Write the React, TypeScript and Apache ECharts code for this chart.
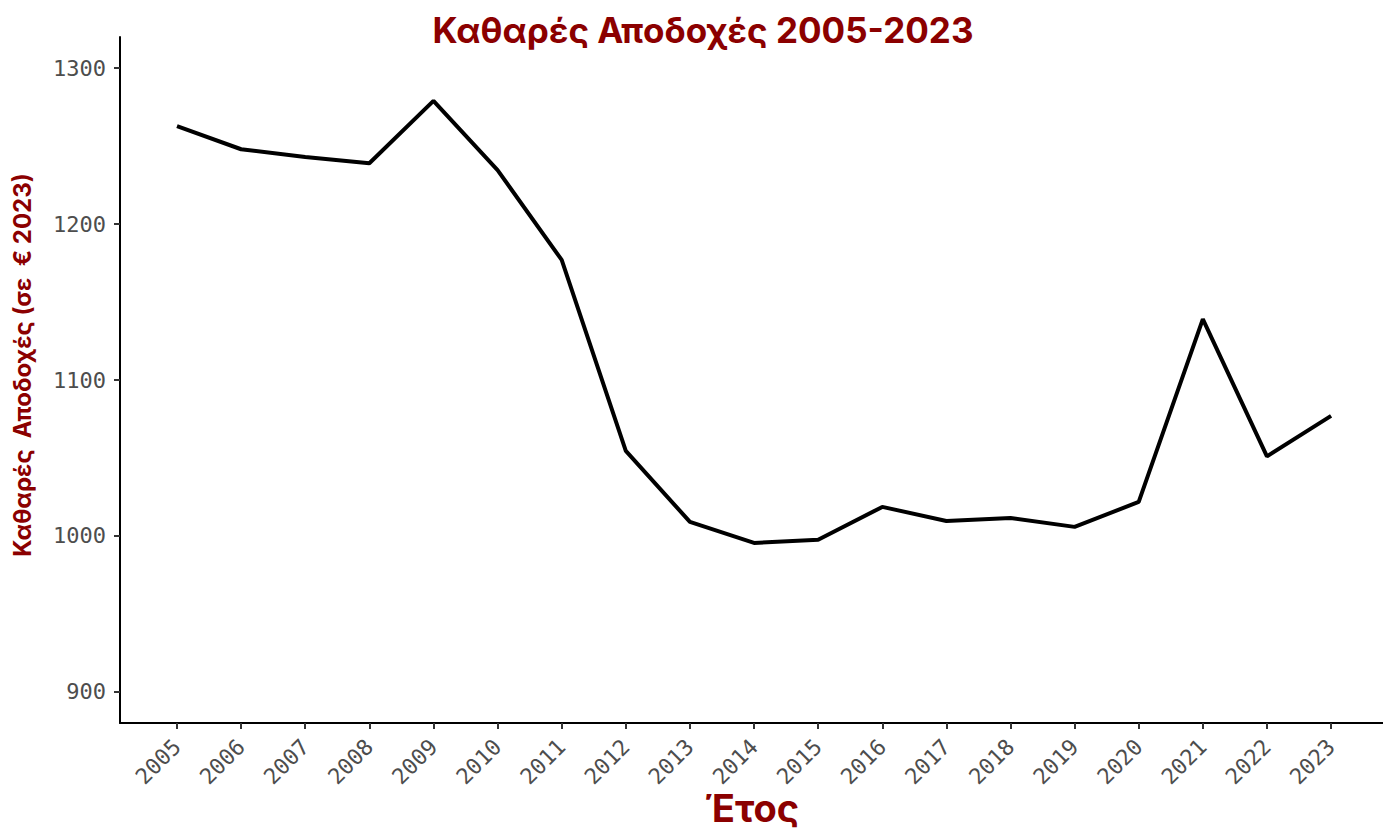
import React, { useEffect, useRef } from "react";
import * as echarts from "echarts";

const years = [2005, 2006, 2007, 2008, 2009, 2010, 2011, 2012, 2013, 2014, 2015, 2016, 2017, 2018, 2019, 2020, 2021, 2022, 2023];
const netEarnings = [1262.8, 1248, 1243, 1239, 1279, 1234.6, 1177, 1054.5, 1009, 995.5, 997.5, 1018.6, 1009.6, 1011.5, 1005.8, 1021.8, 1139, 1051, 1077];
const yTicks = [900, 1000, 1100, 1200, 1300];

const titleText = "Καθαρές Αποδοχές 2005-2023";
const yTitle = "Καθαρές  Αποδοχές (σε  € 2023)";
const xTitle = "Έτος";

const RED = "#8B0000";
const MONO = "'DejaVu Sans Mono', 'Liberation Mono', monospace";
const SANS = "Inter, Roboto, 'Noto Sans', sans-serif";

export default function App() {
  const ref = useRef<HTMLDivElement>(null);
  useEffect(() => {
    document.body.style.margin = "0";
    const chart = echarts.init(ref.current!, null, { renderer: "svg" });
    chart.setOption({
      animation: false,
      backgroundColor: "#ffffff",
      grid: { left: 120, top: 37, right: 0, bottom: 109, containLabel: false },
      xAxis: {
        type: "value",
        min: 2004.111,
        max: 2023.81,
        splitLine: { show: false },
        axisLine: { show: true, onZero: false, lineStyle: { color: "#000", width: 2 } },
        axisTick: { show: true, length: 6, customValues: years, lineStyle: { color: "#333", width: 2 } },
        axisLabel: {
          customValues: years,
          rotate: 45,
          margin: 20,
          color: "#4d4d4d",
          fontSize: 22,
          fontFamily: MONO,
          formatter: (v: number) => String(Math.round(v)),
        },
      },
      yAxis: {
        type: "value",
        min: 880,
        max: 1320,
        splitLine: { show: false },
        axisLine: { show: true, onZero: false, lineStyle: { color: "#000", width: 2 } },
        axisTick: { show: true, length: 6, customValues: yTicks, lineStyle: { color: "#333", width: 2 } },
        axisLabel: {
          customValues: yTicks,
          margin: 14,
          color: "#4d4d4d",
          fontSize: 22,
          fontFamily: MONO,
          formatter: (v: number) => String(Math.round(v)),
        },
      },
      series: [
        {
          type: "line",
          data: years.map((y, i) => [y, netEarnings[i]]),
          showSymbol: false,
          symbol: "none",
          lineStyle: { color: "#000", width: 4 },
          z: 3,
        },
      ],
      graphic: [
        {
          type: "text",
          x: 703,
          y: 30,
          style: {
            text: titleText,
            fill: RED,
            font: `bold 35px ${SANS}`,
            textAlign: "center",
            textVerticalAlign: "middle",
          },
        },
        {
          type: "text",
          x: 22,
          y: 365,
          rotation: Math.PI / 2,
          style: {
            text: yTitle,
            fill: RED,
            font: `bold 24px ${SANS}`,
            textAlign: "center",
            textVerticalAlign: "middle",
          },
        },
        {
          type: "text",
          x: 752,
          y: 808,
          style: {
            text: xTitle,
            fill: RED,
            font: `bold 38px ${SANS}`,
            textAlign: "center",
            textVerticalAlign: "middle",
          },
        },
      ],
    });
    return () => chart.dispose();
  }, []);
  return <div ref={ref} style={{ width: 1383, height: 832 }} />;
}
